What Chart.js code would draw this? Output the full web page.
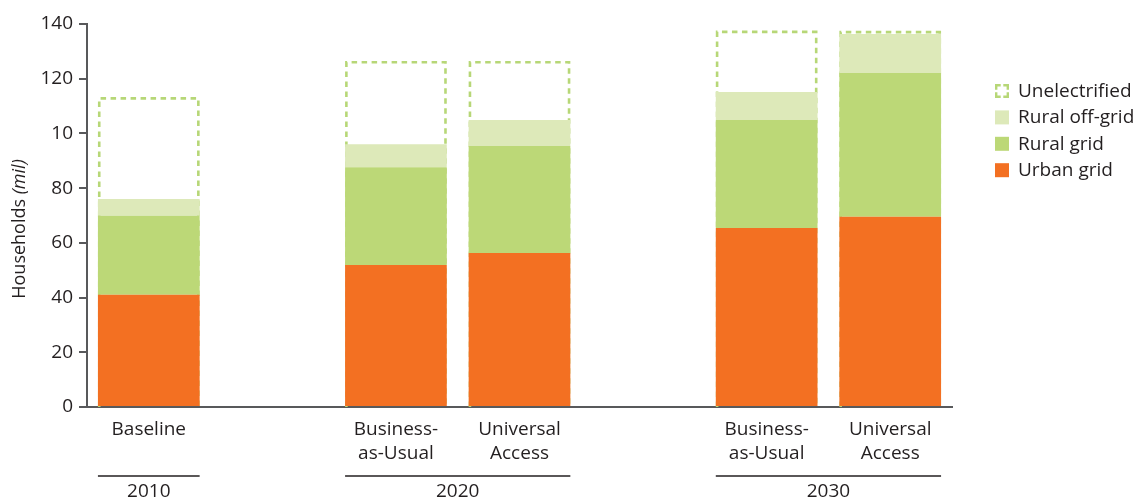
<!DOCTYPE html>
<html>
<head>
<meta charset="utf-8">
<script src="https://cdn.jsdelivr.net/npm/chart.js@4/dist/chart.umd.min.js"></script>
<style>
  html, body { margin: 0; padding: 0; background: #ffffff; }
  #wrap { width: 1134px; height: 502px; position: relative; }
</style>
</head>
<body>
<div id="wrap"><canvas id="c" width="1134" height="502"></canvas></div>
<script>
// ---- data ----
const categories = [['Baseline'], [''], ['Business-', 'as-Usual'], ['Universal', 'Access'], [''], ['Business-', 'as-Usual'], ['Universal', 'Access']];
const urbanGrid     = [41.0, null, 51.9, 56.3, null, 65.4, 69.5];
const ruralGrid     = [28.9, null, 35.7, 39.1, null, 39.5, 52.6];
const ruralOffGrid  = [6.1,  null, 8.4,  9.5,  null, 10.2, 14.2];
const unelectrified = [37.3, null, 30.5, 21.6, null, 22.5, 1.2];
const yTickValues = [0, 20, 40, 60, 80, 100, 120, 140];
const yTickLabels = ['0', '20', '40', '60', '80', '10', '120', '140'];
const groupLabels = ['2010', '2020', '2030'];
const groupStart  = [0, 2, 5];
const groupEnd    = [0, 3, 6];

const FONT = "'Open Sans', sans-serif";
const TEXT = '#231f20';
const AXIS = '#58595b';
const DASH = '#b7d777';

const dashedOutline = {
  id: 'dashedOutline',
  beforeDatasetsDraw(chart) {
    const meta = chart.getDatasetMeta(3);
    const yScale = chart.scales.y;
    const base = yScale.getPixelForValue(0);
    const ctx = chart.ctx;
    ctx.save();
    ctx.strokeStyle = DASH;
    ctx.lineWidth = 2.6;
    ctx.setLineDash([5.5, 4.5]);
    meta.data.forEach((el, i) => {
      if (unelectrified[i] == null) return;
      const p = el.getProps(['x', 'y', 'width'], true);
      const lw = ctx.lineWidth / 2;
      const left = p.x - p.width / 2 + lw;
      const right = p.x + p.width / 2 - lw;
      const top = p.y + lw;
      ctx.beginPath();
      ctx.moveTo(left, base);
      ctx.lineTo(left, top);
      ctx.lineTo(right, top);
      ctx.lineTo(right, base);
      ctx.stroke();
    });
    ctx.restore();
  }
};

const extras = {
  id: 'extras',
  afterDraw(chart) {
    const ctx = chart.ctx;
    const x = chart.scales.x;
    ctx.save();
    // group lines and year labels
    const half = x.getPixelForValue(1) - x.getPixelForValue(0);
    const barW = half * 0.823;
    ctx.strokeStyle = TEXT;
    ctx.lineWidth = 1.5;
    ctx.fillStyle = TEXT;
    ctx.font = "19px " + FONT;
    ctx.textAlign = 'center';
    ctx.textBaseline = 'middle';
    groupLabels.forEach((lab, i) => {
      const l = x.getPixelForValue(groupStart[i]) - barW / 2;
      const r = x.getPixelForValue(groupEnd[i]) + barW / 2;
      ctx.beginPath();
      ctx.moveTo(l, 476);
      ctx.lineTo(r, 476);
      ctx.stroke();
      ctx.fillText(lab, (l + r) / 2, 492);
    });
    // y axis title
    const yMid = 229;
    ctx.translate(20, yMid);
    ctx.rotate(-Math.PI / 2);
    ctx.textBaseline = 'middle';
    ctx.textAlign = 'left';
    const normal = 'Households ';
    const ital = '(mil)';
    ctx.font = "18px " + FONT;
    const w1 = ctx.measureText(normal).width;
    ctx.font = "italic 18px " + FONT;
    const w2 = ctx.measureText(ital).width;
    const start = -(w1 + w2) / 2;
    ctx.font = "18px " + FONT;
    ctx.fillText(normal, start, 0);
    ctx.font = "italic 18px " + FONT;
    ctx.fillText(ital, start + w1, 0);
    ctx.restore();

    // legend
    ctx.save();
    const items = chart.data.datasets.map((d, i) => ({label: d.label, color: d.legendColor, dashed: i === 3})).reverse();
    const lx = 995, ly0 = 91, step = 26.4, box = 14;
    ctx.font = "19px " + FONT;
    ctx.textBaseline = 'middle';
    ctx.textAlign = 'left';
    items.forEach((it, i) => {
      const cy = ly0 + i * step;
      const bx = lx, by = cy - box / 2;
      if (it.dashed) {
        ctx.strokeStyle = it.color;
        ctx.lineWidth = 2.4;
        const a = 4.5, o = 1.2;
        const L = bx + o, R = bx + box - o, T = by + o, B = by + box - o;
        ctx.beginPath();
        ctx.moveTo(L, T + a); ctx.lineTo(L, T); ctx.lineTo(L + a, T);
        ctx.moveTo(R - a, T); ctx.lineTo(R, T); ctx.lineTo(R, T + a);
        ctx.moveTo(R, B - a); ctx.lineTo(R, B); ctx.lineTo(R - a, B);
        ctx.moveTo(L + a, B); ctx.lineTo(L, B); ctx.lineTo(L, B - a);
        ctx.stroke();
      } else {
        ctx.fillStyle = it.color;
        ctx.fillRect(bx, by, box, box);
      }
      ctx.fillStyle = TEXT;
      ctx.fillText(it.label, 1018, cy + 0.5);
    });
    ctx.restore();
  }
};

new Chart(document.getElementById('c'), {
  type: 'bar',
  data: {
    labels: categories,
    datasets: [
      { label: 'Urban grid', data: urbanGrid, backgroundColor: '#f37022', legendColor: '#f37022' },
      { label: 'Rural grid', data: ruralGrid, backgroundColor: '#bcd877', legendColor: '#bcd877' },
      { label: 'Rural off-grid', data: ruralOffGrid, backgroundColor: '#dde9b9', legendColor: '#dde9b9' },
      { label: 'Unelectrified', data: unelectrified, backgroundColor: 'rgba(0,0,0,0)', legendColor: DASH }
    ]
  },
  options: {
    responsive: false,
    animation: false,
    layout: { padding: { top: 24, right: 182, bottom: 0, left: 0 } },
    datasets: { bar: { categoryPercentage: 1, barPercentage: 0.823, borderWidth: 0, skipNull: false } },
    plugins: { legend: { display: false }, tooltip: { enabled: false } },
    scales: {
      x: {
        stacked: true,
        grid: { display: false, drawTicks: false },
        border: { display: true, color: AXIS, width: 2 },
        ticks: { color: TEXT, font: { family: FONT, size: 19, lineHeight: 24 / 19 }, padding: 11, maxRotation: 0, autoSkip: false },
        afterFit(s) { s.height = 95; }
      },
      y: {
        stacked: true,
        min: 0, max: 140,
        afterBuildTicks(s) { s.ticks = yTickValues.map(v => ({ value: v })); },
        grid: { display: true, drawOnChartArea: false, drawTicks: true, tickLength: 8, color: AXIS, lineWidth: 2 },
        border: { display: true, color: AXIS, width: 2 },
        ticks: {
          color: TEXT, font: { family: FONT, size: 19 }, padding: 6,
          callback(v) { const i = yTickValues.indexOf(v); return i >= 0 ? yTickLabels[i] : ''; }
        },
        afterFit(s) { s.width = 87; }
      }
    }
  },
  plugins: [dashedOutline, extras]
});
</script>
</body>
</html>
